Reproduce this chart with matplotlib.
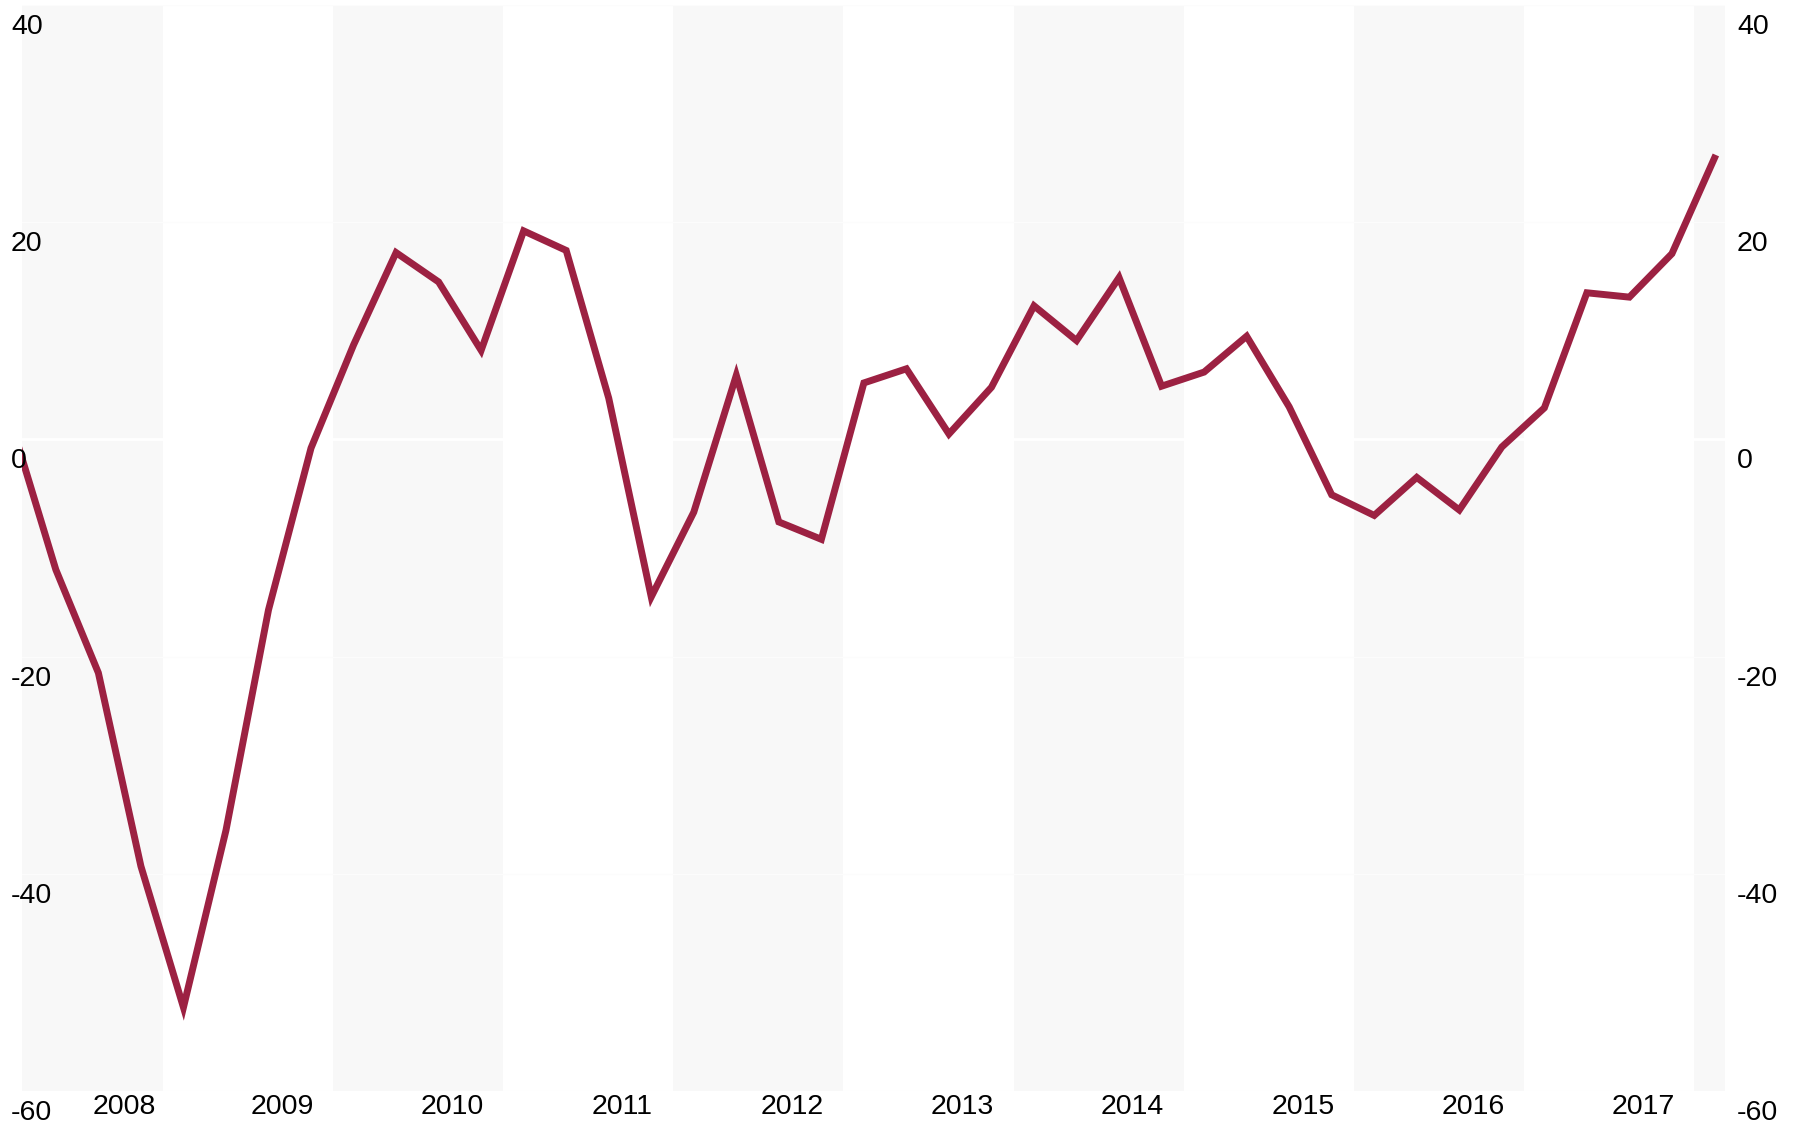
import numpy as np
import matplotlib
matplotlib.use('Agg')
import matplotlib.pyplot as plt

plt.rcParams['font.family'] = ['Liberation Sans', 'DejaVu Sans']

# quarterly values, 2008 Q1 .. 2018 Q1
years = list(range(2008, 2019))
values = [0.9, -12.0, -21.5, -39.3,
          -52.3, -36.0, -15.7, -0.8,
          8.7, 17.2, 14.5, 8.2,
          19.2, 17.4, 3.8, -14.5,
          -6.7, 5.9, -7.6, -9.2,
          5.2, 6.5, 0.5, 4.8,
          12.3, 9.1, 14.9, 4.9,
          6.2, 9.5, 3.0, -5.1,
          -7.0, -3.5, -6.5, -0.7,
          2.9, 13.5, 13.1, 17.1,
          25.9]
year_labels = ['2008', '2009', '2010', '2011', '2012', '2013',
               '2014', '2015', '2016', '2017']
y_ticks = [40, 20, 0, -20, -40, -60]

# x position of each quarter (mid-Feb, mid-May, ...)
x = np.array([2008 + i * 0.25 + 0.12 for i in range(len(values))])

W, H = 1799, 1130
fig = plt.figure(figsize=(W / 100, H / 100), dpi=100)
ax = fig.add_axes([22 / W, (H - 1091) / H, (1725 - 22) / W, (1091 - 5) / H])

# alternating year bands
for yr in years:
    if yr % 2 == 0:
        ax.axvspan(yr, yr + 1, color='#f8f8f8', lw=0, zorder=0)

# grid: zero line clear, the rest barely visible
for t in y_ticks:
    if t == 0:
        ax.axhline(t, color='white', lw=2, zorder=1)
    else:
        ax.axhline(t, color='#fcfcfc', lw=0.8, zorder=1)

ax.plot(x, values, color='#9c2142', lw=5, solid_joinstyle='miter', zorder=3)

ax.set_xlim(2008.171, 2018.182)
ax.set_ylim(-60, 40)
ax.set_xticks([])
ax.set_yticks([])
for s in ax.spines.values():
    s.set_visible(False)

fs = 20.5
for t in y_ticks:
    ax.annotate(str(t), xy=(0, t), xycoords=ax.get_yaxis_transform(),
                xytext=(-11, -22), textcoords='offset pixels',
                ha='left', va='center', fontsize=fs, color='black',
                annotation_clip=False)
    ax.annotate(str(t), xy=(1, t), xycoords=ax.get_yaxis_transform(),
                xytext=(12, -22), textcoords='offset pixels',
                ha='left', va='center', fontsize=fs, color='black',
                annotation_clip=False)

for lab in year_labels:
    pos = int(lab) + (0.77 if lab == '2008' else 0.70)
    ax.annotate(lab, xy=(pos, 0), xycoords=ax.get_xaxis_transform(),
                xytext=(0, -16), textcoords='offset pixels',
                ha='center', va='center', fontsize=fs, color='black',
                annotation_clip=False)

fig.savefig('out.png', dpi=100, facecolor='white')
